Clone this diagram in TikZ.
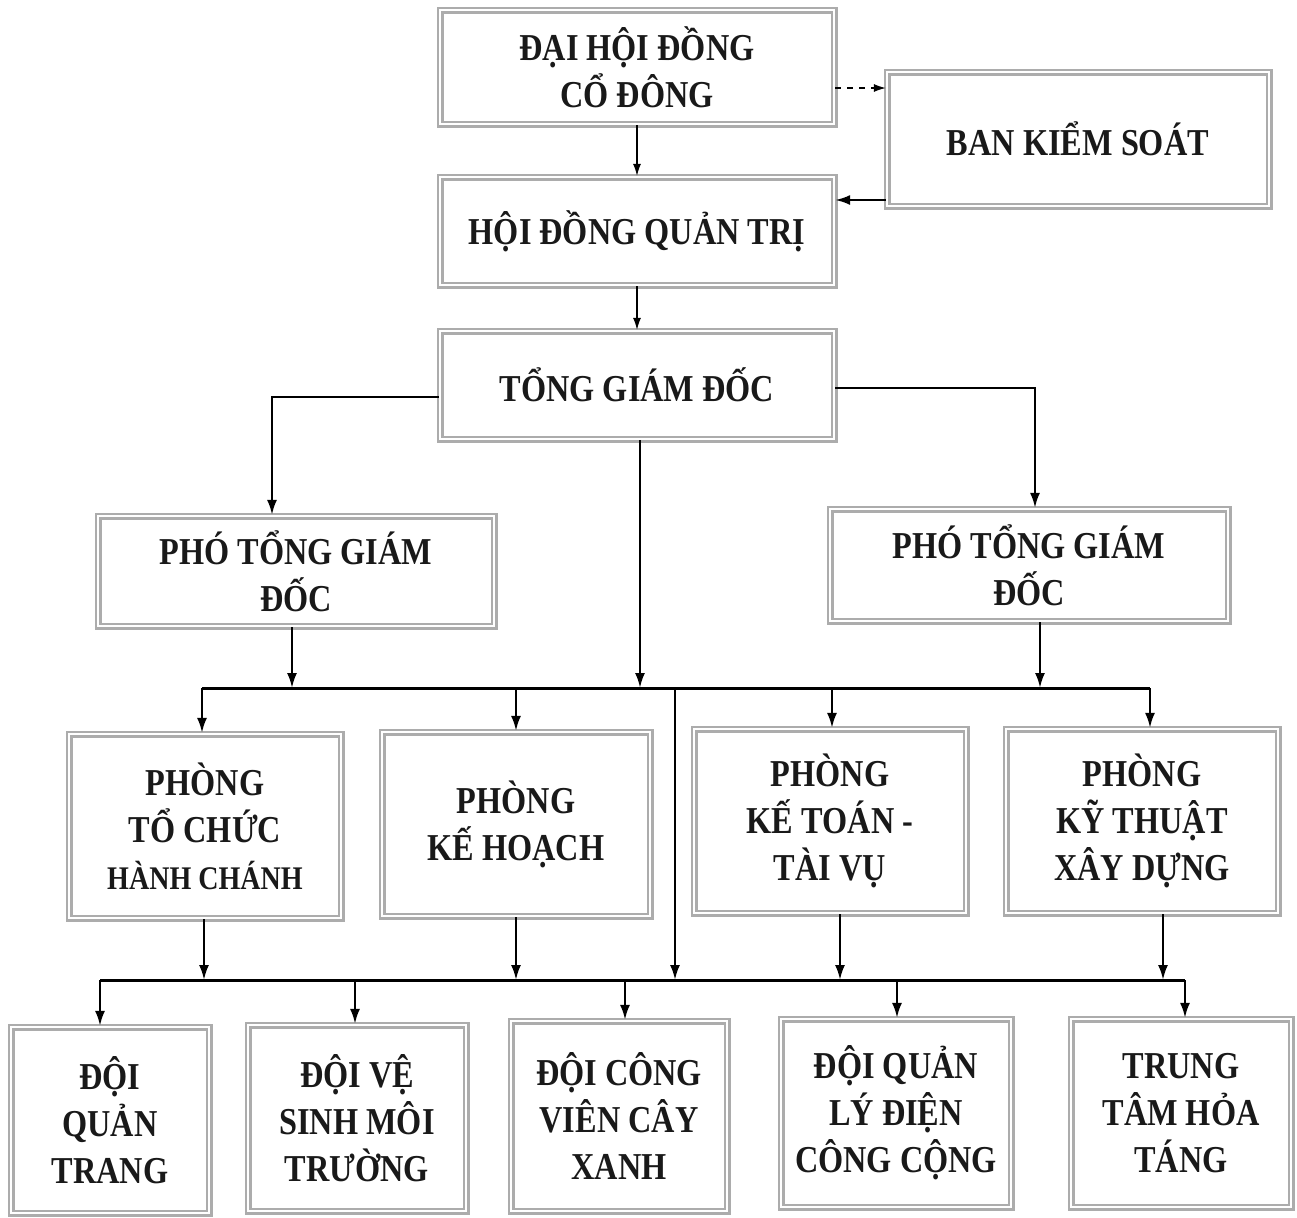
\documentclass[tikz,border=0pt]{standalone}
\usepackage{fontspec}
\setmainfont{Liberation Serif}[FakeStretch=0.85]
\usetikzlibrary{arrows.meta,calc}
\begin{document}
\begin{tikzpicture}[x=0.5pt,y=-0.5pt,
  box/.style={draw=gray!65, double=white, line width=1.1pt, double distance=1.3pt,
    align=center, inner sep=2pt, font=\fontsize{19}{23.5}\selectfont\bfseries, text=black!90},
  arr/.style={line width=1.2pt, -{Latex[length=7.5pt,width=5pt]}},
  thinarr/.style={line width=0.7pt, -{Latex[length=6pt,width=4pt]}},
  bus/.style={line width=1.5pt}]
\useasboundingbox (0,0) rectangle (1297,1217);
% top
\node[box, minimum width=197pt, minimum height=57pt] (n1) at (637,67) {ĐẠI HỘI ĐỒNG\\CỔ ĐÔNG};
\node[box, minimum width=191pt, minimum height=67pt] (n2) at (1078,139) {BAN KIỂM SOÁT};
\node[box, minimum width=197pt, minimum height=54pt] (n3) at (637,231) {HỘI ĐỒNG QUẢN TRỊ};
\node[box, minimum width=197pt, minimum height=54pt] (n4) at (637,385) {TỔNG GIÁM ĐỐC};
\node[box, minimum width=198pt, minimum height=55pt] (n5) at (296,571) {PHÓ TỔNG GIÁM\\ĐỐC};
\node[box, minimum width=199pt, minimum height=56pt] (n6) at (1029,565) {PHÓ TỔNG GIÁM\\ĐỐC};
% phong
\node[box, minimum width=136pt, minimum height=92pt] (n7) at (205,826) {PHÒNG\\TỔ CHỨC\\{\fontsize{16.5}{20}\selectfont HÀNH CHÁNH}};
\node[box, minimum width=134pt, minimum height=92pt] (n8) at (516,824) {PHÒNG\\KẾ HOẠCH};
\node[box, minimum width=136pt, minimum height=92pt] (n9) at (830,821) {PHÒNG\\KẾ TOÁN -\\TÀI VỤ};
\node[box, minimum width=136pt, minimum height=92pt] (n10) at (1142,821) {PHÒNG\\KỸ THUẬT\\XÂY DỰNG};
% doi
\node[box, minimum width=99pt, minimum height=93pt] (n11) at (110,1120) {ĐỘI\\QUẢN\\TRANG};
\node[box, minimum width=109pt, minimum height=93pt] (n12) at (357,1118) {ĐỘI VỆ\\SINH MÔI\\TRƯỜNG};
\node[box, minimum width=108pt, minimum height=95pt] (n13) at (619,1116) {ĐỘI CÔNG\\VIÊN CÂY\\XANH};
\node[box, minimum width=115pt, minimum height=94pt] (n14) at (896,1113) {ĐỘI QUẢN\\LÝ ĐIỆN\\CÔNG CỘNG};
\node[box, minimum width=110pt, minimum height=94pt] (n15) at (1181,1113) {TRUNG\\TÂM HỎA\\TÁNG};
% helper coordinates
\coordinate (y88) at (0,88);
\coordinate (y200) at (0,200);
\coordinate (y397) at (0,397);
\coordinate (y388) at (0,388);
\coordinate (x272) at (272,0);
\coordinate (x1035) at (1035,0);
\coordinate (x640) at (640,0);
\coordinate (x292) at (292,0);
\coordinate (x1040) at (1040,0);
\coordinate (x516) at (516,0);
\coordinate (x832) at (832,0);
\coordinate (x675) at (675,0);
\coordinate (x204) at (204,0);
\coordinate (x840) at (840,0);
\coordinate (x1163) at (1163,0);
\coordinate (x355) at (355,0);
\coordinate (x625) at (625,0);
\coordinate (x897) at (897,0);
\coordinate (b1L) at (202,688);
\coordinate (b1R) at (1150,688);
\coordinate (b2L) at (100,980);
\coordinate (b2R) at (1185,980);
% top connectors
\draw[thinarr] (n1.south) -- (n3.north);
\draw[thinarr, dashed] (n1.east |- y88) -- (n2.west |- y88);
\draw[arr] (n2.west |- y200) -- (n3.east |- y200);
\draw[thinarr] (n3.south) -- (n4.north);
\draw[arr] (n4.west |- y397) -| (x272 |- n5.north);
\draw[arr] (n4.east |- y388) -| (x1035 |- n6.north);
\draw[arr] (n4.south -| x640) -- (x640 |- b1L);
\draw[arr] (n5.south -| x292) -- (x292 |- b1L);
\draw[arr] (n6.south -| x1040) -- (x1040 |- b1L);
% bus 1
\draw[bus] (b1L) -- (b1R);
\draw[arr] (b1L) -- (b1L |- n7.north);
\draw[arr] (x516 |- b1L) -- (x516 |- n8.north);
\draw[arr] (x832 |- b1L) -- (x832 |- n9.north);
\draw[arr] (b1R) -- (b1R |- n10.north);
\draw[arr] (x675 |- b1L) -- (x675 |- b2L);
% row drops
\draw[arr] (x204 |- n7.south) -- (x204 |- b2L);
\draw[arr] (x516 |- n8.south) -- (x516 |- b2L);
\draw[arr] (x840 |- n9.south) -- (x840 |- b2L);
\draw[arr] (x1163 |- n10.south) -- (x1163 |- b2L);
% bus 2
\draw[bus] (b2L) -- (b2R);
\draw[arr] (b2L) -- (b2L |- n11.north);
\draw[arr] (x355 |- b2L) -- (x355 |- n12.north);
\draw[arr] (x625 |- b2L) -- (x625 |- n13.north);
\draw[arr] (x897 |- b2L) -- (x897 |- n14.north);
\draw[arr] (b2R) -- (b2R |- n15.north);
\end{tikzpicture}
\end{document}
